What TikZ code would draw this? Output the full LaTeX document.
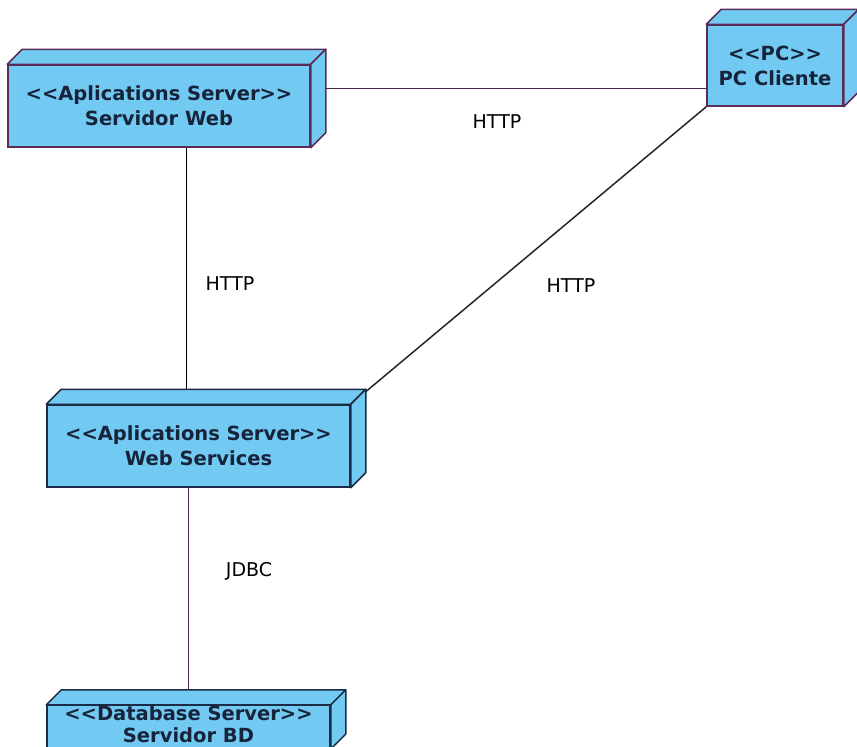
\documentclass[tikz,border=0pt]{standalone}
\usepackage{fontspec}
\setsansfont{DejaVu Sans}[Ligatures=TeXOff]
\usetikzlibrary{calc, backgrounds}

\definecolor{devblue}{HTML}{72C9F2}
\definecolor{plum}{HTML}{5B2C5A}
\definecolor{navy}{HTML}{1B2B45}
\definecolor{devtext}{HTML}{16233A}

% depth of the 3D faces of a device node
\newcommand{\devdepth}{15}
% top and side faces of a device node: #1 node name, #2 border colour
\newcommand{\devfaces}[2]{%
  \draw[face, draw=#2] (#1.north west) -- ++(\devdepth,\devdepth)
      -- ($(#1.north east)+(\devdepth,\devdepth)$) -- (#1.north east) -- cycle;
  \draw[face, draw=#2] (#1.north east) -- ($(#1.north east)+(\devdepth,\devdepth)$)
      -- ($(#1.south east)+(\devdepth,\devdepth)$) -- (#1.south east) -- cycle;
}

\begin{document}
\begin{tikzpicture}
   [
      x=1pt, y=1pt,
      % Style for the UML device nodes (front face)
      device/.style={rectangle, draw=#1, fill=devblue, line width=1.5pt, inner sep=0pt,
                     align=center, text=devtext,
                     font=\sffamily\bfseries\fontsize{19.5}{25}\selectfont},
      % Style for the top and side faces
      face/.style={fill=devblue, line width=1.5pt, line join=round},
      % Style for the communication links
      link/.style={line width=1.5pt, #1},
      % Style for the protocol labels
      proto/.style={text=black, font=\sffamily\fontsize{19}{22}\selectfont, inner sep=1pt}
   ]

    \useasboundingbox (0,0) rectangle (857,-747);

    % =======================================================
    % Devices
    % =======================================================
    \node[device=plum, minimum width=302pt, minimum height=82pt] (web) at (159,-106)
        {<<Aplications Server>>\\Servidor Web};
    \devfaces{web}{plum}

    \node[device=plum, minimum width=136pt, minimum height=81pt] (pc) at (775,-65.5)
        {<<PC>>\\PC Cliente};
    \devfaces{pc}{plum}

    \node[device=navy, minimum width=303pt, minimum height=82pt] (ws) at (198.5,-446)
        {<<Aplications Server>>\\Web Services};
    \devfaces{ws}{navy}

    % the database box is cut by the lower edge of the picture
    \node[device=navy, minimum width=283pt, minimum height=42pt, text depth=6pt,
          font=\sffamily\bfseries\fontsize{19.5}{22}\selectfont] (bd) at (188.5,-727)
        {<<Database Server>>\\Servidor BD};
    \devfaces{bd}{navy}

    % =======================================================
    % Links (behind the devices)
    % =======================================================
    \begin{pgfonlayer}{background}
      \draw[link=plum!85!black] ($(pc.south west)!0.22!(pc.north west)$) coordinate (pcw)
          -- (pcw -| web.east);
      \draw[link=black] ($(web.south west)!0.59!(web.south east)$) coordinate (webs)
          -- (webs |- ws.north);
      \draw[link=black!85] (pc.south west) -- (ws.north east);
      \draw[link=plum!85!black] (bd.north) -- (bd.north |- ws.south);
    \end{pgfonlayer}

    % Protocol labels
    \node[proto] (http1) at (497,-122) {HTTP};
    \node[proto] (http2) at (230,-284) {HTTP};
    \node[proto] (http3) at (571,-286) {HTTP};
    \node[proto] (jdbc)  at (249,-571) {JDBC};

\end{tikzpicture}
\end{document}
